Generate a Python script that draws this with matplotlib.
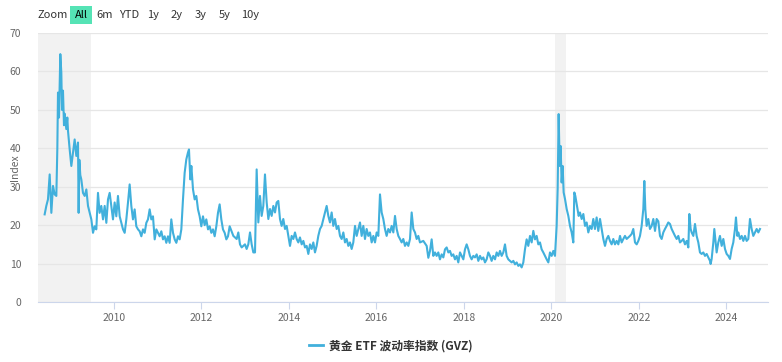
import matplotlib
import matplotlib.pyplot as plt
from matplotlib.lines import Line2D

matplotlib.use("Agg")
plt.rcParams["font.family"] = ["Noto Sans CJK SC", "DejaVu Sans"]

# GVZ values (decimal year, index level)
years = [
    2008.415, 2008.453, 2008.491, 2008.530, 2008.568, 2008.606, 2008.644, 2008.682, 2008.705, 2008.720,
    2008.743, 2008.773, 2008.796, 2008.811, 2008.834, 2008.857, 2008.872, 2008.910, 2008.933, 2008.949,
    2008.987, 2009.025, 2009.063, 2009.101, 2009.139, 2009.177, 2009.192, 2009.208, 2009.230, 2009.253,
    2009.291, 2009.330, 2009.368, 2009.406, 2009.444, 2009.482, 2009.520, 2009.558, 2009.596, 2009.634,
    2009.672, 2009.710, 2009.749, 2009.787, 2009.825, 2009.863, 2009.901, 2009.939, 2009.977, 2010.015,
    2010.053, 2010.091, 2010.130, 2010.168, 2010.206, 2010.244, 2010.282, 2010.320, 2010.358, 2010.396,
    2010.434, 2010.472, 2010.510, 2010.549, 2010.587, 2010.625, 2010.663, 2010.701, 2010.739, 2010.777,
    2010.815, 2010.853, 2010.891, 2010.930, 2010.968, 2011.006, 2011.044, 2011.082, 2011.120, 2011.158,
    2011.196, 2011.234, 2011.272, 2011.310, 2011.349, 2011.387, 2011.425, 2011.463, 2011.501, 2011.539,
    2011.577, 2011.615, 2011.653, 2011.691, 2011.714, 2011.745, 2011.768, 2011.806, 2011.844, 2011.882,
    2011.920, 2011.958, 2011.996, 2012.034, 2012.072, 2012.110, 2012.149, 2012.187, 2012.225, 2012.263,
    2012.301, 2012.339, 2012.377, 2012.415, 2012.453, 2012.491, 2012.530, 2012.568, 2012.606, 2012.644,
    2012.728, 2012.804, 2012.842, 2012.880, 2012.918, 2012.956, 2012.994, 2013.032, 2013.070, 2013.109,
    2013.147, 2013.185, 2013.223, 2013.261, 2013.299, 2013.337, 2013.375, 2013.413, 2013.451, 2013.490,
    2013.528, 2013.566, 2013.604, 2013.642, 2013.680, 2013.718, 2013.756, 2013.794, 2013.832, 2013.870,
    2013.909, 2013.947, 2013.985, 2014.023, 2014.061, 2014.099, 2014.137, 2014.175, 2014.213, 2014.251,
    2014.290, 2014.328, 2014.366, 2014.404, 2014.442, 2014.480, 2014.518, 2014.556, 2014.594, 2014.632,
    2014.670, 2014.709, 2014.747, 2014.785, 2014.823, 2014.861, 2014.899, 2014.937, 2014.975, 2015.013,
    2015.051, 2015.090, 2015.128, 2015.166, 2015.204, 2015.242, 2015.280, 2015.318, 2015.356, 2015.394,
    2015.432, 2015.470, 2015.509, 2015.547, 2015.585, 2015.623, 2015.661, 2015.699, 2015.737, 2015.775,
    2015.813, 2015.851, 2015.890, 2015.928, 2015.966, 2016.004, 2016.042, 2016.080, 2016.118, 2016.156,
    2016.194, 2016.232, 2016.270, 2016.309, 2016.347, 2016.385, 2016.423, 2016.461, 2016.499, 2016.537,
    2016.575, 2016.613, 2016.651, 2016.690, 2016.728, 2016.766, 2016.804, 2016.842, 2016.880, 2016.918,
    2016.956, 2016.994, 2017.070, 2017.147, 2017.185, 2017.223, 2017.261, 2017.299, 2017.337, 2017.375,
    2017.413, 2017.451, 2017.490, 2017.528, 2017.566, 2017.604, 2017.642, 2017.680, 2017.718, 2017.756,
    2017.794, 2017.832, 2017.870, 2017.909, 2017.947, 2017.985, 2018.023, 2018.061, 2018.099, 2018.137,
    2018.175, 2018.213, 2018.251, 2018.290, 2018.328, 2018.366, 2018.404, 2018.442, 2018.480, 2018.518,
    2018.556, 2018.594, 2018.632, 2018.670, 2018.709, 2018.747, 2018.785, 2018.823, 2018.861, 2018.899,
    2018.937, 2018.975, 2019.013, 2019.051, 2019.090, 2019.128, 2019.166, 2019.204, 2019.242, 2019.280,
    2019.318, 2019.356, 2019.394, 2019.432, 2019.470, 2019.509, 2019.547, 2019.585, 2019.623, 2019.661,
    2019.699, 2019.737, 2019.775, 2019.813, 2019.851, 2019.890, 2019.928, 2019.966, 2020.004, 2020.042,
    2020.080, 2020.118, 2020.141, 2020.164, 2020.187, 2020.209, 2020.232, 2020.255, 2020.278, 2020.309,
    2020.347, 2020.385, 2020.423, 2020.461, 2020.499, 2020.522, 2020.545, 2020.583, 2020.621, 2020.651,
    2020.690, 2020.728, 2020.766, 2020.804, 2020.842, 2020.880, 2020.918, 2020.956, 2020.994, 2021.032,
    2021.070, 2021.109, 2021.147, 2021.185, 2021.223, 2021.261, 2021.299, 2021.337, 2021.375, 2021.413,
    2021.451, 2021.490, 2021.528, 2021.566, 2021.604, 2021.642, 2021.680, 2021.718, 2021.756, 2021.794,
    2021.832, 2021.870, 2021.909, 2021.947, 2021.985, 2022.023, 2022.061, 2022.099, 2022.122, 2022.145,
    2022.175, 2022.213, 2022.251, 2022.290, 2022.328, 2022.366, 2022.404, 2022.442, 2022.480, 2022.518,
    2022.556, 2022.594, 2022.632, 2022.670, 2022.709, 2022.747, 2022.785, 2022.823, 2022.861, 2022.899,
    2022.937, 2022.975, 2023.013, 2023.051, 2023.090, 2023.128, 2023.151, 2023.181, 2023.204, 2023.242,
    2023.280, 2023.318, 2023.356, 2023.394, 2023.432, 2023.470, 2023.509, 2023.547, 2023.585, 2023.623,
    2023.638, 2023.661, 2023.699, 2023.722, 2023.752, 2023.775, 2023.813, 2023.851, 2023.890, 2023.928,
    2023.966, 2024.004, 2024.042, 2024.080, 2024.118, 2024.156, 2024.194, 2024.217, 2024.248, 2024.270,
    2024.309, 2024.347, 2024.385, 2024.423, 2024.461, 2024.499, 2024.537, 2024.575, 2024.613, 2024.651,
    2024.690, 2024.728, 2024.766,
]
gvz = [
    22.8, 25.0, 26.7, 33.2, 23.2, 30.2, 28.0, 27.6, 40.0, 54.5,
    48.0, 64.5, 59.7, 50.0, 55.0, 46.0, 49.0, 45.0, 48.0, 44.5,
    39.7, 35.4, 38.9, 42.3, 38.0, 41.5, 23.2, 37.0, 33.0, 31.9,
    28.4, 27.6, 29.3, 25.0, 23.2, 21.5, 18.0, 19.7, 18.9, 28.4,
    23.2, 25.0, 21.5, 25.0, 20.6, 26.7, 28.4, 25.0, 21.5, 25.9,
    22.3, 27.6, 22.3, 20.6, 18.9, 18.0, 21.5, 25.9, 30.6, 25.0,
    21.5, 24.1, 19.7, 18.9, 18.4, 17.1, 18.9, 18.0, 20.6, 21.5,
    24.1, 21.5, 22.3, 16.3, 18.9, 18.0, 17.1, 18.4, 16.3, 17.1,
    15.4, 17.1, 15.4, 21.5, 18.0, 16.3, 15.4, 17.1, 16.3, 18.9,
    26.7, 33.6, 37.1, 38.9, 39.7, 31.9, 35.4, 29.3, 26.7, 27.6,
    24.1, 22.3, 19.7, 22.3, 20.0, 21.5, 18.9, 19.7, 18.0, 18.9,
    17.1, 19.7, 23.2, 25.4, 21.5, 18.9, 18.0, 16.3, 17.1, 19.7,
    17.2, 16.4, 18.1, 15.0, 14.2, 14.6, 15.0, 13.8, 15.0, 18.1,
    15.0, 12.9, 12.9, 34.5, 20.7, 27.6, 22.4, 25.0, 33.2, 25.9,
    21.6, 24.2, 22.4, 25.0, 23.3, 25.9, 26.3, 21.6, 19.8, 21.6,
    19.0, 19.8, 17.2, 14.6, 17.2, 16.4, 18.1, 16.4, 15.5, 16.8,
    15.0, 15.9, 14.2, 14.6, 12.5, 15.0, 13.8, 15.5, 12.9, 14.6,
    17.2, 19.0, 19.8, 21.6, 23.3, 25.0, 22.4, 20.7, 23.3, 19.8,
    21.6, 19.0, 19.8, 17.2, 16.4, 18.1, 15.5, 16.4, 14.6, 15.5,
    13.8, 15.5, 19.8, 17.2, 19.0, 20.7, 17.2, 19.8, 16.4, 19.0,
    17.2, 18.1, 15.5, 17.2, 15.5, 18.1, 17.2, 28.0, 23.3, 21.6,
    19.0, 17.2, 19.0, 18.1, 19.8, 18.1, 22.4, 19.0, 17.2, 16.4,
    15.5, 16.4, 14.6, 15.5, 14.6, 16.4, 23.3, 19.0, 18.1, 16.4,
    17.2, 15.5, 15.9, 14.6, 11.5, 13.3, 16.3, 12.0, 12.9, 12.0,
    12.9, 11.1, 12.4, 11.6, 13.7, 14.2, 12.9, 13.3, 12.0, 12.4,
    11.1, 12.0, 10.3, 12.9, 12.0, 11.1, 13.7, 15.0, 13.7, 12.0,
    11.1, 12.0, 11.6, 12.4, 10.7, 12.0, 11.1, 11.6, 10.3, 11.1,
    12.9, 12.0, 10.7, 12.0, 11.1, 12.9, 12.0, 13.3, 12.0, 12.9,
    15.0, 12.0, 11.1, 10.7, 10.3, 10.7, 9.8, 10.3, 9.4, 9.8,
    9.0, 10.3, 13.7, 16.3, 14.6, 17.2, 15.5, 18.5, 16.3, 17.2,
    15.0, 15.5, 13.7, 12.9, 12.0, 11.1, 10.3, 12.9, 12.0, 13.3,
    12.0, 19.8, 29.4, 48.9, 35.4, 40.6, 31.1, 35.4, 28.5, 26.8,
    24.2, 22.4, 19.8, 18.1, 15.5, 28.5, 27.6, 25.0, 22.4, 23.3,
    21.6, 22.9, 19.8, 20.7, 18.1, 19.8, 19.0, 21.6, 19.0, 22.0,
    18.5, 21.6, 19.0, 16.4, 14.6, 16.4, 17.2, 15.9, 15.0, 16.4,
    15.0, 15.9, 15.0, 17.2, 15.5, 16.4, 17.2, 16.4, 16.8, 17.2,
    17.7, 19.0, 15.5, 15.0, 15.9, 17.2, 19.8, 24.2, 31.5, 24.2,
    19.8, 21.6, 19.0, 19.8, 21.6, 18.5, 21.6, 21.0, 17.2, 16.4,
    18.1, 19.0, 19.8, 20.7, 20.3, 19.0, 18.1, 17.2, 16.4, 17.2,
    15.5, 15.9, 16.4, 15.0, 15.9, 14.2, 22.9, 19.0, 18.1, 17.2,
    20.3, 17.2, 15.5, 12.9, 12.5, 12.9, 12.0, 12.5, 11.6, 10.7,
    9.9, 11.2, 15.5, 19.0, 15.5, 12.9, 15.5, 17.2, 14.6, 16.4,
    13.8, 12.5, 12.0, 11.2, 13.8, 15.5, 19.0, 22.0, 17.2, 18.1,
    16.4, 17.2, 15.9, 17.2, 15.9, 16.4, 21.6, 19.0, 17.2, 18.1,
    19.0, 18.1, 19.0,
]
# recession / crisis bands (start, end)
bands = [(2008.263, 2009.47), (2020.07, 2020.33)]
year_ticks = [2010, 2012, 2014, 2016, 2018, 2020, 2022, 2024]
y_ticks = [0, 10, 20, 30, 40, 50, 60, 70]
buttons = ["6m", "YTD", "1y", "2y", "3y", "5y", "10y"]
button_x = [105, 129, 153, 177, 201, 225, 250]

W, H = 782, 362
fig = plt.figure(figsize=(W / 100, H / 100), dpi=100)
ax = fig.add_axes([38 / W, 1 - 302 / H, (768 - 38) / W, (302 - 33) / H])

for start, end in bands:
    ax.axvspan(start, end, color="#f2f2f2", zorder=0, lw=0)

ax.plot(years, gvz, color="#41b0dc", linewidth=1.5, zorder=3)

ax.set_xlim(2008.263, 2024.949)
ax.set_ylim(0, 70)
ax.set_xticks(year_ticks)
ax.set_yticks(y_ticks)
ax.grid(axis="y", color="#e6e6e6", linewidth=0.9)
ax.set_axisbelow(True)
for side in ["top", "right", "left"]:
    ax.spines[side].set_visible(False)
ax.spines["bottom"].set_color("#ccd6eb")
ax.tick_params(axis="x", colors="#666666", labelsize=7.5, length=5, color="#ccd6eb", pad=3)
ax.tick_params(axis="y", colors="#666666", labelsize=7.5, length=0, pad=12)
ax.set_ylabel("Index", color="#666666", fontsize=7.5)
ax.yaxis.set_label_coords(-18 / 730, 0.5)

# range selector row
fig.text(37 / W, 1 - 15 / H, "Zoom", fontsize=8, color="#333333", va="center")
fig.text(81 / W, 1 - 15 / H, "All", fontsize=8, color="#000000", va="center", ha="center",
         bbox=dict(boxstyle="square,pad=0.4", fc="#55e3b5", ec="none"))
for label, bx in zip(buttons, button_x):
    fig.text(bx / W, 1 - 15 / H, label, fontsize=8, color="#333333", va="center", ha="center")

handle = Line2D([], [], color="#41b0dc", linewidth=2)
fig.legend([handle], ["黄金 ETF 波动率指数 (GVZ)"], loc="center", bbox_to_anchor=(0.5, 1 - 346 / H),
           frameon=False, handlelength=1.2, handletextpad=0.5,
           prop={"size": 8.5, "weight": "bold"}, labelcolor="#333333")

fig.savefig("out.png", dpi=100)
